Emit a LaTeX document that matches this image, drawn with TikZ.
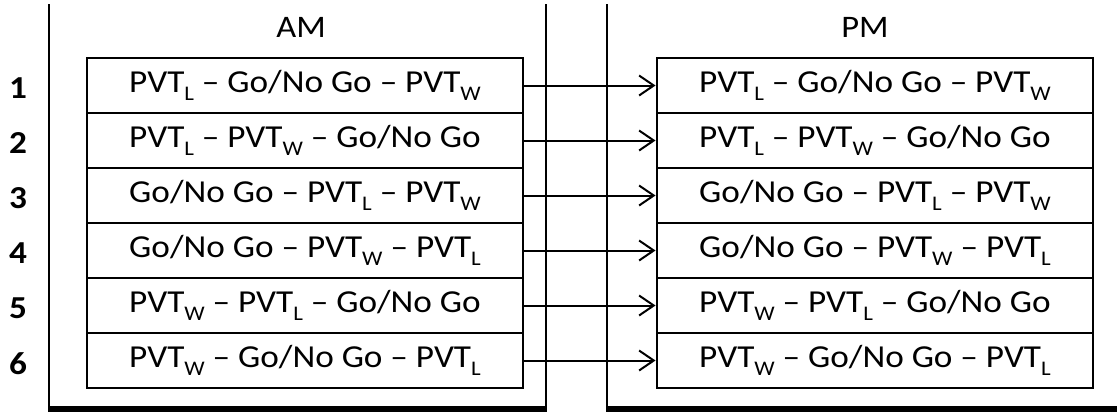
\documentclass[tikz,border=0pt]{standalone}
\usepackage{fontspec}
\setmainfont[FakeStretch=1.1]{Carlito}
\usetikzlibrary{arrows.meta}
\newcommand{\lowidx}[1]{\raisebox{-6.5pt}{\fontsize{15.6}{16}\selectfont #1}}
\newcommand{\pvtl}{PVT\lowidx{L}}
\newcommand{\pvtw}{PVT\lowidx{W}}
\newcommand{\gonogo}{Go/No Go}

\begin{document}
\begin{tikzpicture}[x=0.75pt,y=-0.75pt,
	slot/.style={draw,line width=2.2pt,minimum width=327pt,minimum height=41.25pt,inner sep=0pt,font=\fontsize{24}{28}\selectfont},
	daynum/.style={font=\fontsize{24}{28}\selectfont\bfseries},
	carry/.style={-{Straight Barb[length=11pt,width=15pt,line width=1.5pt]},line width=1.5pt}]
			\useasboundingbox (0,0) rectangle (1117,412);
			% panels
			\draw[line width=1.6pt] (49,4) -- (49,409);
			\draw[line width=1.6pt] (546,4) -- (546,409);
			\draw[line width=4.5pt] (48,409) -- (547,409);
			\draw[line width=1.6pt] (607,4) -- (607,409);
			\draw[line width=4.5pt] (606,409) -- (1130,409);
			\node (am) at (301,27){\fontsize{23.5}{28}\selectfont AM};
			\node (pm) at (865,27){\fontsize{23.5}{28}\selectfont PM};
			% AM
			\node[slot] (a1) at (305,85.5){\pvtl{} -- \gonogo{} -- \pvtw};
			\node[slot] (a2) at (305,140.5){\pvtl{} -- \pvtw{} -- \gonogo};
			\node[slot] (a3) at (305,195.5){\gonogo{} -- \pvtl{} -- \pvtw};
			\node[slot] (a4) at (305,250.5){\gonogo{} -- \pvtw{} -- \pvtl};
			\node[slot] (a5) at (305,305.5){\pvtw{} -- \pvtl{} -- \gonogo};
			\node[slot] (a6) at (305,360.5){\pvtw{} -- \gonogo{} -- \pvtl};
			% PM
			\node[slot] (p1) at (875,85.5){\pvtl{} -- \gonogo{} -- \pvtw};
			\node[slot] (p2) at (875,140.5){\pvtl{} -- \pvtw{} -- \gonogo};
			\node[slot] (p3) at (875,195.5){\gonogo{} -- \pvtl{} -- \pvtw};
			\node[slot] (p4) at (875,250.5){\gonogo{} -- \pvtw{} -- \pvtl};
			\node[slot] (p5) at (875,305.5){\pvtw{} -- \pvtl{} -- \gonogo};
			\node[slot] (p6) at (875,360.5){\pvtw{} -- \gonogo{} -- \pvtl};
			% row numbers
			\node[daynum] (n1) at (18,88.5){1};
			\node[daynum] (n2) at (18,143.5){2};
			\node[daynum] (n3) at (18,198.5){3};
			\node[daynum] (n4) at (18,253.5){4};
			\node[daynum] (n5) at (18,308.5){5};
			\node[daynum] (n6) at (18,363.5){6};
			% arrows
			\draw[carry] (a1) -- (p1);
			\draw[carry] (a2) -- (p2);
			\draw[carry] (a3) -- (p3);
			\draw[carry] (a4) -- (p4);
			\draw[carry] (a5) -- (p5);
			\draw[carry] (a6) -- (p6);
		\end{tikzpicture}
\end{document}
